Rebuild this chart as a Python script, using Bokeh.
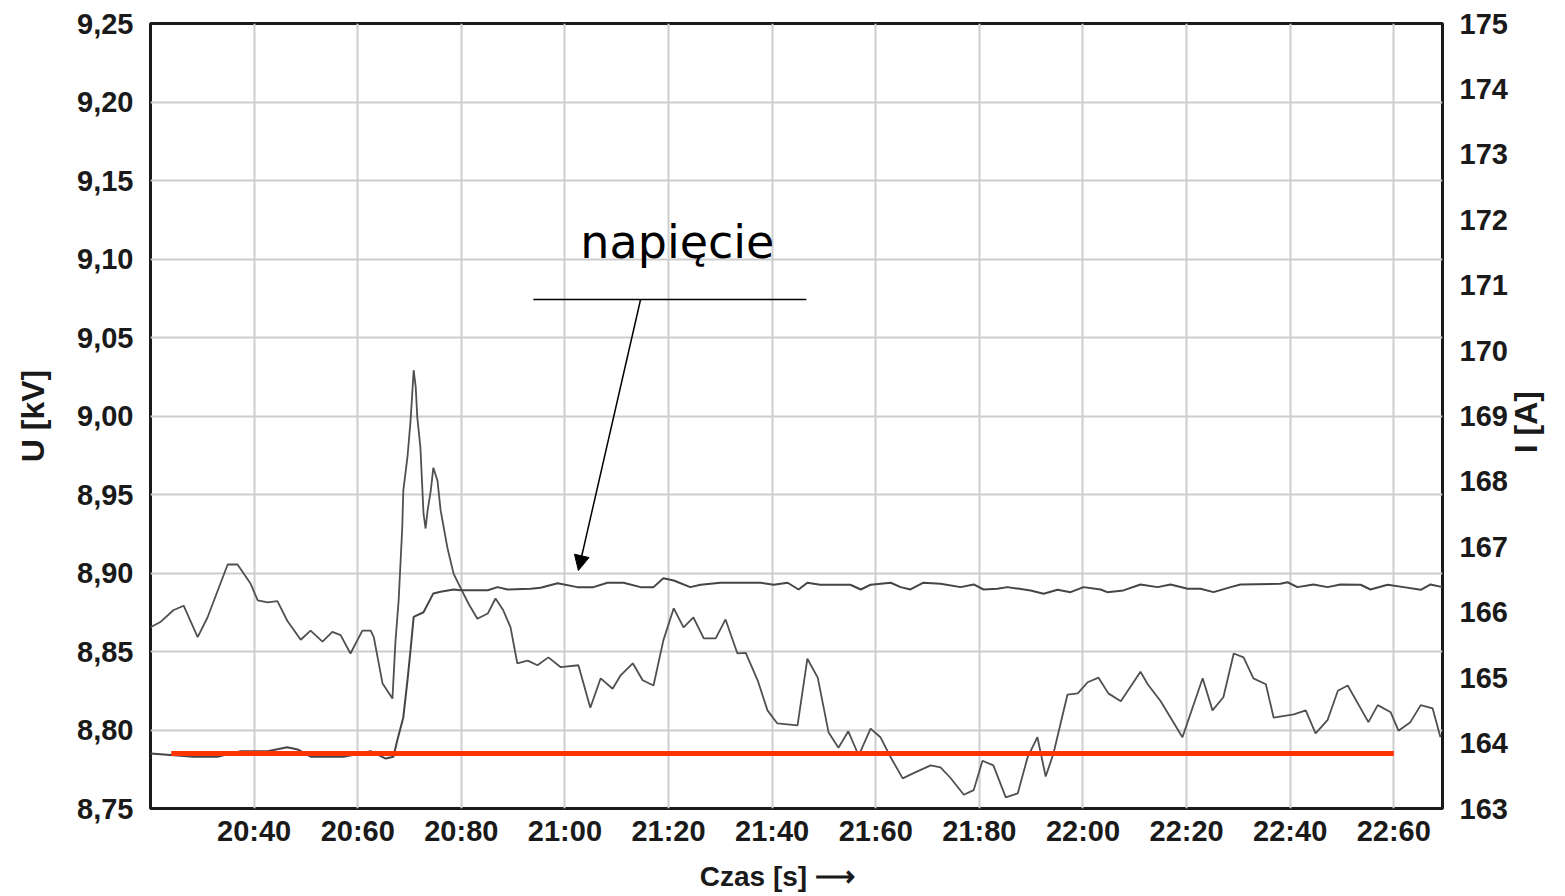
from math import pi
from bokeh.plotting import figure
from bokeh.models import (Range1d, LinearAxis, FixedTicker, Label, Arrow,
                          NormalHead)
from bokeh.embed import file_html
from bokeh.resources import INLINE

# ---------------- data ----------------
x_ticks = [2040, 2060, 2080, 2100, 2120, 2140, 2160, 2180, 2200, 2220, 2240, 2260]
x_tick_labels = ["20:40", "20:60", "20:80", "21:00", "21:20", "21:40",
                 "21:60", "21:80", "22:00", "22:20", "22:40", "22:60"]
u_ticks = [8.75, 8.8, 8.85, 8.9, 8.95, 9.0, 9.05, 9.1, 9.15, 9.2, 9.25]
u_tick_labels = ["8,75", "8,80", "8,85", "8,90", "8,95", "9,00",
                 "9,05", "9,10", "9,15", "9,20", "9,25"]
i_ticks = [163, 164, 165, 166, 167, 168, 169, 170, 171, 172, 173, 174, 175]
i_tick_labels = [str(v) for v in i_ticks]

# axis titles and where they sit along their axes
x_title, x_title_at = "Czas [s] \u27f6", 2141.0
i_title, i_title_at = "I [A]", 168.43

# voltage (napiecie), left axis [kV]
t_u = [2020.0, 2028.3, 2032.9, 2037.4, 2042.6, 2046.4, 2048.4, 2050.9, 2054.2,
       2057.3, 2062.5, 2065.4, 2066.9, 2067.6, 2068.8, 2069.6, 2070.2, 2070.8,
       2072.7, 2074.6, 2076.0, 2078.5, 2079.8, 2085.1, 2087.0, 2088.9, 2093.4,
       2095.3, 2098.6, 2102.4, 2105.5, 2108.2, 2111.3, 2114.6, 2117.1, 2119.0,
       2121.0, 2124.2, 2126.2, 2130.0, 2137.8, 2140.3, 2143.0, 2145.1, 2146.8,
       2149.3, 2155.1, 2157.1, 2159.0, 2162.9, 2164.8, 2166.7, 2169.2, 2172.5,
       2176.4, 2178.9, 2180.8, 2183.5, 2185.4, 2189.9, 2192.4, 2195.1, 2197.6,
       2200.1, 2203.4, 2204.7, 2207.8, 2211.1, 2214.4, 2216.9, 2220.2, 2222.7,
       2225.2, 2228.5, 2230.4, 2238.1, 2239.5, 2241.4, 2244.5, 2247.2, 2249.7,
       2253.6, 2255.5, 2258.8, 2261.9, 2265.2, 2267.1, 2269.4]
u_val = [8.785, 8.783, 8.783, 8.7865, 8.7865, 8.789, 8.7876, 8.783, 8.783,
         8.783, 8.7865, 8.7818, 8.783, 8.793, 8.808, 8.8315, 8.851, 8.872,
         8.875, 8.887, 8.888, 8.8895, 8.889, 8.889, 8.891, 8.8895, 8.890,
         8.8906, 8.8935, 8.891, 8.891, 8.8938, 8.8938, 8.891, 8.891, 8.8967,
         8.8952, 8.891, 8.8925, 8.8938, 8.8938, 8.8925, 8.8938, 8.8895, 8.8938,
         8.8925, 8.8925, 8.8895, 8.8925, 8.8938, 8.891, 8.8895, 8.8938, 8.8931,
         8.891, 8.8927, 8.8895, 8.890, 8.891, 8.8889, 8.8868, 8.8893, 8.8878,
         8.891, 8.8895, 8.8878, 8.8889, 8.8927, 8.891, 8.8927, 8.890, 8.890,
         8.8878, 8.891, 8.8927, 8.8931, 8.8941, 8.891, 8.8927, 8.891, 8.8927,
         8.8925, 8.8895, 8.8925, 8.891, 8.8893, 8.8927, 8.891]

# current, right axis [A]
t_i = [2020.0, 2021.9, 2024.4, 2026.4, 2029.1, 2031.0, 2033.5, 2034.9, 2036.8,
       2039.3, 2040.7, 2042.6, 2044.5, 2046.4, 2049.0, 2050.9, 2053.2, 2055.1,
       2056.7, 2058.6, 2060.9, 2062.5, 2063.1, 2064.8, 2066.7, 2067.3, 2067.9,
       2068.6, 2068.8, 2069.6, 2070.2, 2070.6, 2070.8, 2071.2, 2071.5, 2072.1,
       2072.7, 2073.1, 2073.5, 2074.1, 2074.6, 2075.4, 2076.0, 2077.3, 2078.5,
       2079.8, 2081.4, 2083.1, 2085.1, 2086.6, 2088.1, 2089.5, 2090.8, 2092.8,
       2094.7, 2096.8, 2099.2, 2102.6, 2104.9, 2106.9, 2109.2, 2110.7, 2113.1,
       2115.0, 2117.1, 2119.0, 2121.0, 2122.9, 2124.8, 2126.8, 2129.1, 2131.0,
       2133.3, 2134.9, 2137.2, 2139.1, 2141.0, 2144.9, 2146.8, 2148.8, 2150.9,
       2152.8, 2154.7, 2156.7, 2159.0, 2160.9, 2162.9, 2165.2, 2167.3, 2170.6,
       2172.5, 2174.4, 2177.0, 2178.9, 2180.6, 2182.7, 2185.1, 2187.4, 2189.3,
       2191.2, 2192.8, 2194.3, 2197.0, 2199.0, 2200.9, 2203.0, 2204.9, 2207.3,
       2211.1, 2212.5, 2215.0, 2219.2, 2223.1, 2225.0, 2227.1, 2229.1, 2231.0,
       2232.9, 2235.3, 2236.8, 2240.7, 2243.0, 2244.9, 2247.2, 2249.2, 2251.1,
       2255.1, 2256.9, 2259.4, 2260.9, 2263.2, 2265.2, 2267.5, 2269.0]
i_val = [165.77, 165.85, 166.03, 166.10, 165.62, 165.92, 166.44, 166.73, 166.73,
         166.44, 166.18, 166.15, 166.17, 165.87, 165.58, 165.72, 165.55, 165.70,
         165.65, 165.37, 165.72, 165.72, 165.62, 164.91, 164.68, 165.57, 166.18,
         167.30, 167.86, 168.37, 168.93, 169.44, 169.70, 169.44, 168.98, 168.52,
         167.51, 167.28, 167.56, 167.86, 168.21, 168.01, 167.56, 166.99, 166.59,
         166.38, 166.13, 165.90, 165.98, 166.21, 166.03, 165.77, 165.22, 165.26,
         165.19, 165.31, 165.16, 165.19, 164.54, 164.99, 164.83, 165.03, 165.22,
         164.96, 164.88, 165.57, 166.06, 165.77, 165.92, 165.60, 165.60, 165.89,
         165.37, 165.38, 164.96, 164.50, 164.30, 164.27, 165.29, 165.00, 164.16,
         163.93, 164.18, 163.81, 164.22, 164.09, 163.78, 163.46, 163.54, 163.66,
         163.63, 163.47, 163.21, 163.28, 163.73, 163.66, 163.17, 163.23, 163.78,
         164.09, 163.49, 163.84, 164.74, 164.76, 164.93, 165.00, 164.76, 164.64,
         165.09, 164.90, 164.64, 164.09, 164.99, 164.50, 164.70, 165.37, 165.31,
         164.99, 164.90, 164.39, 164.44, 164.50, 164.15, 164.35, 164.80, 164.88,
         164.32, 164.58, 164.47, 164.19, 164.32, 164.58, 164.53, 164.09]

# reference (red) level [kV]
ref_t = [2024.0, 2260.0]
ref_u = [8.785, 8.785]

# ---------------- figure ----------------
FONT = "Liberation Sans"
TICK_SIZE = "29px"
TEXT_COLOR = "#1a1a1a"

p = figure(width=1565, height=896, output_backend="svg", toolbar_location=None,
           title=None,
           x_range=Range1d(2020, 2269.4), y_range=Range1d(8.75, 9.25),
           min_border_left=150, min_border_right=123,
           min_border_top=23, min_border_bottom=88)
p.extra_y_ranges = {"I": Range1d(163, 175)}

p.background_fill_color = "white"
p.border_fill_color = "white"
p.outline_line_color = "#1a1a1a"
p.outline_line_width = 3

p.xgrid.grid_line_color = "#cdcdcd"
p.ygrid.grid_line_color = "#cdcdcd"
p.xgrid.grid_line_width = 2
p.ygrid.grid_line_width = 2


def style_axis(ax, standoff, size=TICK_SIZE):
    ax.axis_line_color = None
    ax.major_tick_line_color = None
    ax.minor_tick_line_color = None
    ax.major_tick_in = 0
    ax.major_tick_out = 0
    ax.minor_tick_in = 0
    ax.minor_tick_out = 0
    ax.major_label_text_font = FONT
    ax.major_label_text_font_size = size
    ax.major_label_text_font_style = "bold"
    ax.major_label_text_color = TEXT_COLOR
    ax.major_label_standoff = standoff


xa = p.xaxis[0]
xa.ticker = FixedTicker(ticks=x_ticks)
xa.major_label_overrides = dict(zip(x_ticks, x_tick_labels))
style_axis(xa, 6)

ya = p.yaxis[0]
ya.ticker = FixedTicker(ticks=u_ticks)
ya.major_label_overrides = dict(zip(u_ticks, u_tick_labels))
style_axis(ya, 17)
ya.axis_label = "U [kV]"
ya.axis_label_text_font = FONT
ya.axis_label_text_font_size = "32px"
ya.axis_label_text_font_style = "bold"
ya.axis_label_text_color = TEXT_COLOR
ya.axis_label_standoff = 23

ra = LinearAxis(y_range_name="I", ticker=FixedTicker(ticks=i_ticks))
ra.major_label_overrides = dict(zip(i_ticks, i_tick_labels))
style_axis(ra, 17)
p.add_layout(ra, "right")

# right-hand title "I [A]" (reads bottom-to-top)
rt = LinearAxis(y_range_name="I", ticker=FixedTicker(ticks=[i_title_at]))
rt.major_label_overrides = {i_title_at: i_title}
style_axis(rt, 16, "32px")
rt.major_label_orientation = pi / 2
p.add_layout(rt, "right")

# bottom title "Czas [s] ->"
bt = LinearAxis(ticker=FixedTicker(ticks=[x_title_at]))
bt.major_label_overrides = {x_title_at: x_title}
style_axis(bt, 11, "28px")
p.add_layout(bt, "below")

# ---------------- series ----------------
p.line(t_i, i_val, y_range_name="I", line_color="#505050", line_width=1.8)
p.line(t_u, u_val, line_color="#454545", line_width=2)
p.line(ref_t, ref_u, line_color="#ff3300", line_width=5)

# ---------------- annotation "napięcie" ----------------
p.add_layout(Label(x=2121.7, y=9.111, text="napięcie", text_align="center",
                   text_baseline="middle", text_font="DejaVu Sans",
                   text_font_size="46px", text_color="black"))
p.add_layout(Arrow(x_start=2093.9, y_start=9.0742, x_end=2146.6, y_end=9.0742,
                   end=None, line_color="black", line_width=1.3))
p.add_layout(Arrow(x_start=2114.6, y_start=9.0742, x_end=2102.6, y_end=8.9016,
                   end=NormalHead(size=15, fill_color="black", line_color="black"),
                   line_color="black", line_width=1.5))

open("out.html", "w").write(file_html(p, INLINE))
